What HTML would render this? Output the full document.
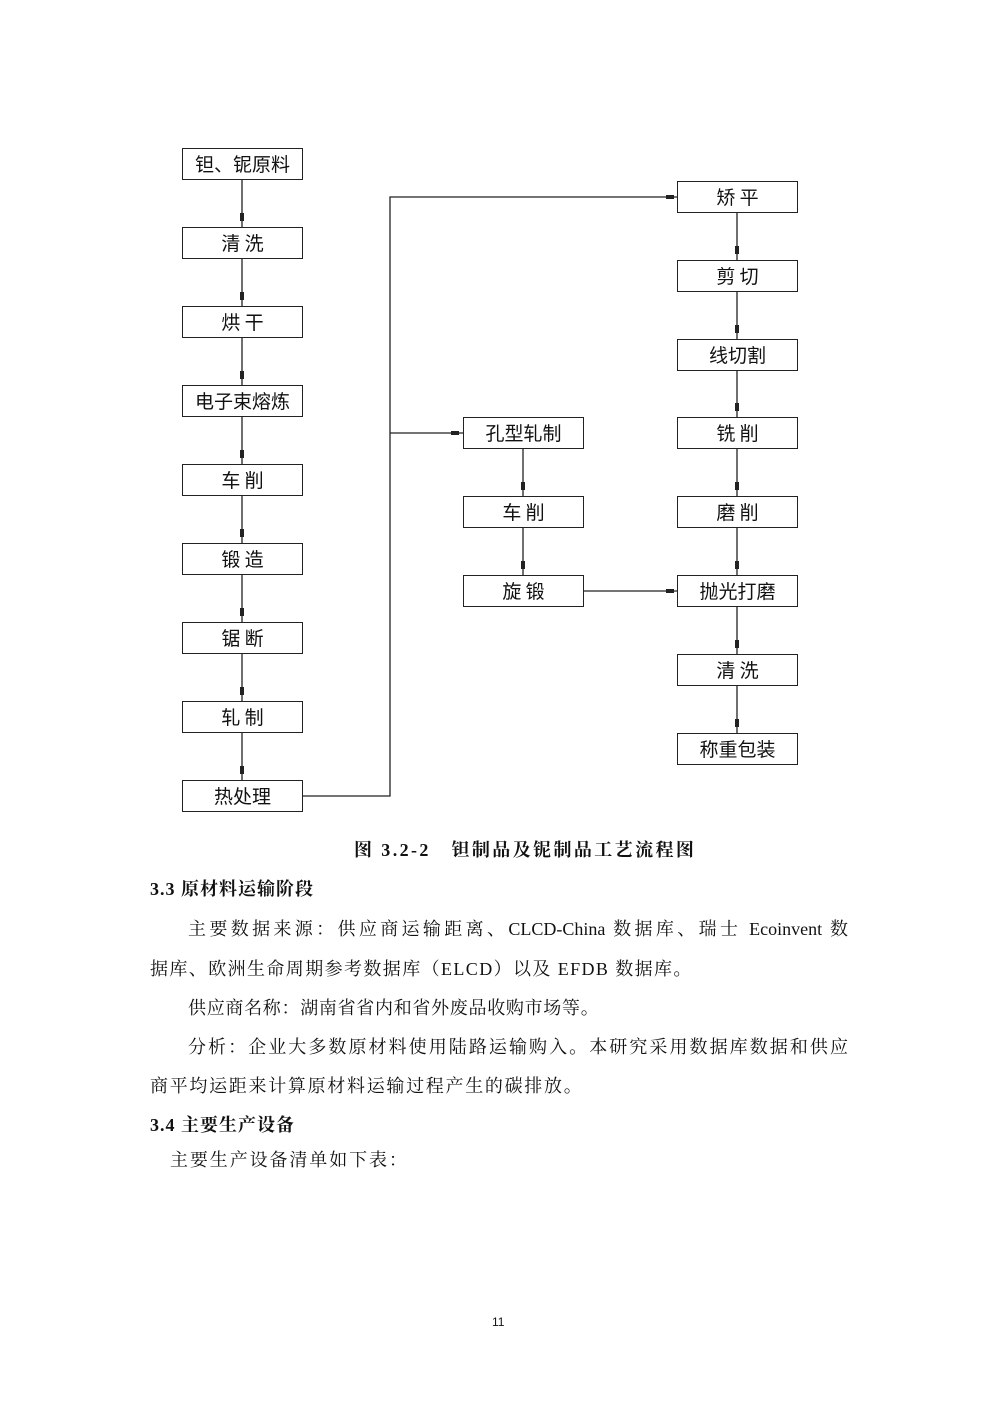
<!DOCTYPE html>
<html><head><meta charset="utf-8"><style>
body{margin:0;background:#fff;}
#p{position:relative;width:1000px;height:1414px;overflow:hidden;font-family:"Liberation Serif","Noto Serif CJK SC","Noto Sans CJK SC",serif;color:#111;}
.b{position:absolute;width:119px;height:30px;border:1.3px solid #222;font-family:"Noto Sans CJK SC","WenQuanYi Zen Hei",sans-serif;font-size:19px;line-height:30px;text-align:center;background:#fff;}
.t{position:absolute;font-size:18px;white-space:nowrap;}
.j{position:absolute;font-size:18px;white-space:nowrap;text-align:justify;text-align-last:justify;}
.h{font-weight:bold;}
</style></head><body><div id="p">
<svg width="1000" height="1414" style="position:absolute;left:0;top:0" stroke="#222" stroke-width="1.3" fill="none">
<path d="M242 180V780"/>
<path d="M302 796H390V197H677"/>
<path d="M390 433H463"/>
<path d="M523 449V575"/>
<path d="M583 591H677"/>
<path d="M737 213V733"/>
<g fill="#222" stroke="none">
<rect x="240" y="213" width="4" height="8"/><rect x="240" y="292" width="4" height="8"/><rect x="240" y="371" width="4" height="8"/><rect x="240" y="450" width="4" height="8"/><rect x="240" y="529" width="4" height="8"/><rect x="240" y="608" width="4" height="8"/><rect x="240" y="687" width="4" height="8"/><rect x="240" y="766" width="4" height="8"/>
<rect x="521" y="482" width="4" height="8"/><rect x="521" y="561" width="4" height="8"/>
<rect x="735" y="246" width="4" height="8"/><rect x="735" y="325" width="4" height="8"/><rect x="735" y="403" width="4" height="8"/><rect x="735" y="482" width="4" height="8"/><rect x="735" y="561" width="4" height="8"/><rect x="735" y="640" width="4" height="8"/><rect x="735" y="719" width="4" height="8"/>
<rect x="666" y="195" width="8" height="4"/><rect x="451" y="431" width="8" height="4"/><rect x="666" y="589" width="8" height="4"/>
</g></svg>
<div class="b" style="left:182px;top:148px">钽、铌原料</div>
<div class="b" style="left:182px;top:227px">清 洗</div>
<div class="b" style="left:182px;top:306px">烘 干</div>
<div class="b" style="left:182px;top:385px">电子束熔炼</div>
<div class="b" style="left:182px;top:464px">车 削</div>
<div class="b" style="left:182px;top:543px">锻 造</div>
<div class="b" style="left:182px;top:622px">锯 断</div>
<div class="b" style="left:182px;top:701px">轧 制</div>
<div class="b" style="left:182px;top:780px">热处理</div>
<div class="b" style="left:463px;top:417px">孔型轧制</div>
<div class="b" style="left:463px;top:496px">车 削</div>
<div class="b" style="left:463px;top:575px">旋 锻</div>
<div class="b" style="left:677px;top:181px">矫 平</div>
<div class="b" style="left:677px;top:260px">剪 切</div>
<div class="b" style="left:677px;top:339px">线切割</div>
<div class="b" style="left:677px;top:417px">铣 削</div>
<div class="b" style="left:677px;top:496px">磨 削</div>
<div class="b" style="left:677px;top:575px">抛光打磨</div>
<div class="b" style="left:677px;top:654px">清 洗</div>
<div class="b" style="left:677px;top:733px">称重包装</div>
<div class="t h" style="left:354px;top:836px;letter-spacing:2.4px">图 3.2-2&nbsp;&nbsp; 钽制品及铌制品工艺流程图</div>
<div class="t h" style="left:150px;top:875px;letter-spacing:1px">3.3 原材料运输阶段</div>
<div class="j" style="left:188px;top:915px;width:660px">主要数据来源：供应商运输距离、CLCD-China 数据库、瑞士 Ecoinvent 数</div>
<div class="t" style="left:150px;top:955px;letter-spacing:1.4px">据库、欧洲生命周期参考数据库（ELCD）以及 EFDB 数据库。</div>
<div class="t" style="left:188px;top:994px;letter-spacing:0.7px">供应商名称：湖南省省内和省外废品收购市场等。</div>
<div class="j" style="left:188px;top:1033px;width:660px">分析：企业大多数原材料使用陆路运输购入。本研究采用数据库数据和供应</div>
<div class="t" style="left:150px;top:1072px;letter-spacing:1.7px">商平均运距来计算原材料运输过程产生的碳排放。</div>
<div class="t h" style="left:150px;top:1111px;letter-spacing:1px">3.4 主要生产设备</div>
<div class="t" style="left:170px;top:1146px;letter-spacing:1.9px">主要生产设备清单如下表：</div>
<div class="t" style="left:492px;top:1315px;font-size:12px;font-family:'Liberation Sans',sans-serif">11</div>
</div></body></html>
